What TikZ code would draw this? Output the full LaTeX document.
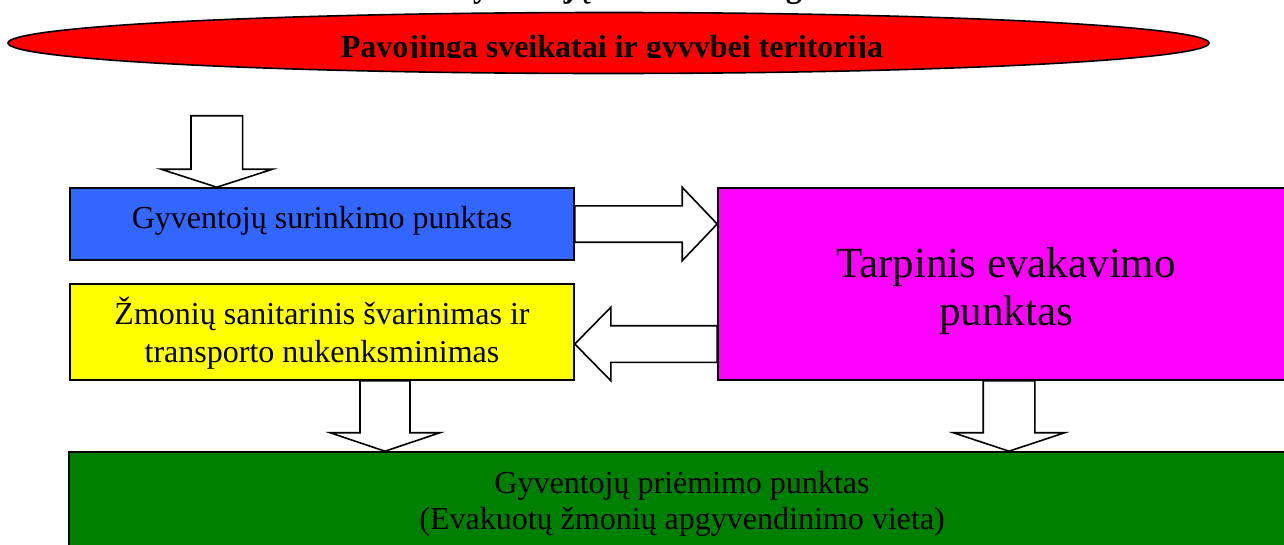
\documentclass[tikz,border=0pt]{standalone}
\usepackage{fontspec}
\setmainfont{Liberation Serif}
\usetikzlibrary{calc,shapes.geometric}
\definecolor{boxblue}{HTML}{3366FF}
\definecolor{boxyellow}{HTML}{FFFF00}
\definecolor{boxmagenta}{HTML}{FF00FF}
\definecolor{boxgreen}{HTML}{008000}
\definecolor{zonered}{HTML}{FF0000}
\tikzset{
  box/.style={draw=black, line width=1.6pt, rectangle, inner sep=0pt},
  lbl/.style={font=\fontsize{32}{38}\selectfont, align=center, inner sep=0pt},
  greenlbl/.style={font=\fontsize{32}{36}\selectfont, align=center, inner sep=0pt},
  biglbl/.style={font=\fontsize{43}{48}\selectfont, align=center, inner sep=0pt},
  boldlbl/.style={font=\bfseries\fontsize{32}{38}\selectfont, inner sep=0pt},
  barrow/.style={draw=black, line width=1.6pt, fill=white, line join=miter},
}
% #1 start (shaft end), #2 tip, #3 shaft half width, #4 head half width, #5 head length
\newcommand{\blockdown}[5]{\draw[barrow] ($(#1)+(-#3,0)$) -- ($(#2)+(-#3,-#5)$) -- ($(#2)+(-#4,-#5)$) -- (#2) -- ($(#2)+(#4,-#5)$) -- ($(#2)+(#3,-#5)$) -- ($(#1)+(#3,0)$) -- cycle;}
\newcommand{\blockright}[5]{\draw[barrow] ($(#1)+(0,-#3)$) -- ($(#2)+(-#5,-#3)$) -- ($(#2)+(-#5,-#4)$) -- (#2) -- ($(#2)+(-#5,#4)$) -- ($(#2)+(-#5,#3)$) -- ($(#1)+(0,#3)$) -- cycle;}
\newcommand{\blockleft}[5]{\draw[barrow] ($(#1)+(0,-#3)$) -- ($(#2)+(#5,-#3)$) -- ($(#2)+(#5,-#4)$) -- (#2) -- ($(#2)+(#5,#4)$) -- ($(#2)+(#5,#3)$) -- ($(#1)+(0,#3)$) -- cycle;}
\begin{document}
\begin{tikzpicture}[x=1pt,y=-1pt]
\clip (0,0) rectangle (1284,544);
\fill[white] (0,0) rectangle (1284,544);
% title, cut off by the top edge
\node[boldlbl, anchor=base west] (title) at (448,-3) {Gyventojų evakavimo organizavimo schema};
% dangerous zone
\node[ellipse, draw=black, line width=1.6pt, fill=zonered, minimum width=1201pt, minimum height=61pt, inner sep=0pt] (zone) at (608.5,43) {};
\begin{scope}
  \clip (0,0) rectangle (1284,57.2);
  \node[boldlbl, anchor=base] (zonet) at (612,57.5) {Pavojinga sveikatai ir gyvybei teritorija};
\end{scope}
% boxes
\node[box, fill=boxblue, minimum width=504pt, minimum height=72pt] (collect) at (322,224) {};
\node[lbl, anchor=base] (collectt) at (322,228.3) {Gyventojų surinkimo punktas};
\node[box, fill=boxyellow, minimum width=504pt, minimum height=96pt] (sanit) at (322,332) {};
\node[lbl] (sanitt) at (322,333) {Žmonių sanitarinis švarinimas ir\\transporto nukenksminimas};
\node[box, fill=boxmagenta, minimum width=576pt, minimum height=192pt] (transit) at (1006,284) {};
\node[biglbl] (transitt) at (1006,291) {Tarpinis evakavimo\\punktas};
\node[box, fill=boxgreen, minimum width=1226pt, minimum height=148pt] (recv) at (682,526) {};
\node[greenlbl] (recvt) at (682,503.5) {Gyventojų priėmimo punktas\\(Evakuotų žmonių apgyvendinimo vieta)};
% arrows
\coordinate (src) at (216.8,115.7);
\coordinate (t1) at (src |- collect.north);
\blockdown{src}{t1}{25.8}{55.8}{18}
\coordinate (s2) at (collect.east);
\coordinate (t2) at (transit.west |- s2);
\blockright{s2}{t2}{18.2}{36.7}{35}
\coordinate (s3) at ([yshift=-60pt]transit.west);
\coordinate (t3) at (sanit.east |- s3);
\blockleft{s3}{t3}{18.3}{36.7}{36}
\coordinate (s4) at ([xshift=63pt]sanit.south);
\coordinate (t4) at (s4 |- recv.north);
\blockdown{s4}{t4}{25}{55}{18.5}
\coordinate (s5) at ([xshift=3pt]transit.south);
\coordinate (t5) at (s5 |- recv.north);
\blockdown{s5}{t5}{25.8}{55.8}{18.5}
\end{tikzpicture}
\end{document}
